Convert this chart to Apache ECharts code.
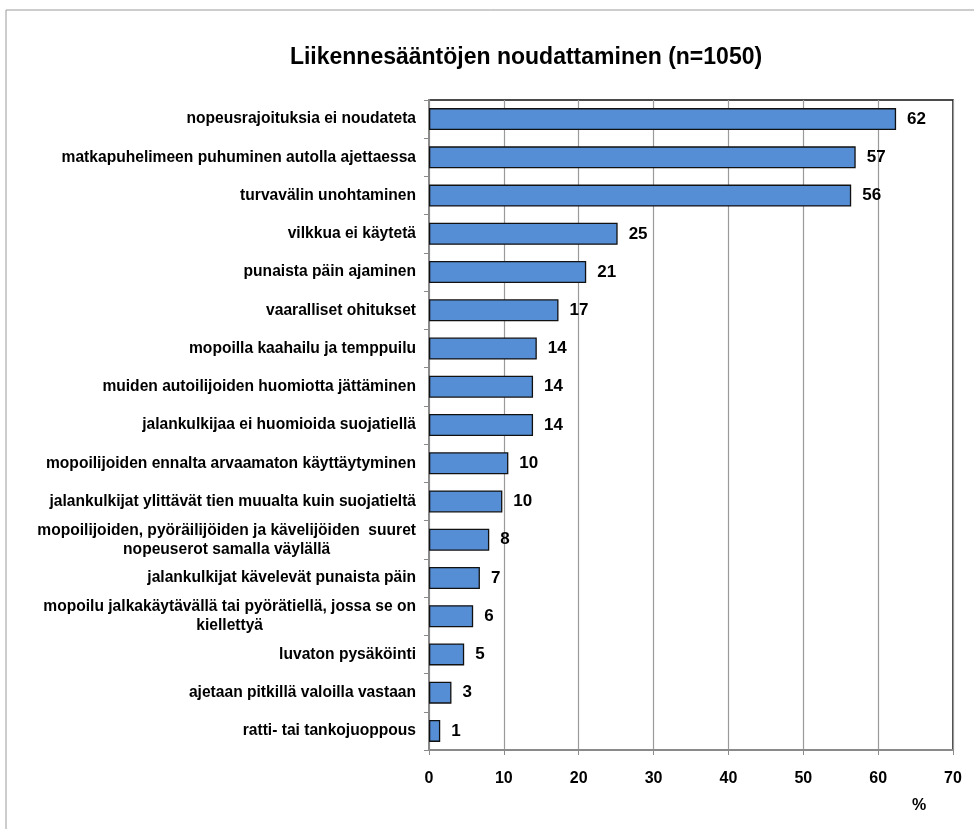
<!DOCTYPE html>
<html>
<head>
<meta charset="utf-8">
<script src="https://cdn.jsdelivr.net/npm/echarts@6/dist/echarts.min.js"></script>
<style>
  html, body { margin: 0; padding: 0; background: #fff; }
  #chart { width: 974px; height: 829px; }
</style>
</head>
<body>
<div id="chart"></div>
<script>
// kategoriat ylhäältä alas
var categories = [
  'nopeusrajoituksia ei noudateta',
  'matkapuhelimeen puhuminen autolla ajettaessa',
  'turvavälin unohtaminen',
  'vilkkua ei käytetä',
  'punaista päin ajaminen',
  'vaaralliset ohitukset',
  'mopoilla kaahailu ja temppuilu',
  'muiden autoilijoiden huomiotta jättäminen',
  'jalankulkijaa ei huomioida suojatiellä',
  'mopoilijoiden ennalta arvaamaton käyttäytyminen',
  'jalankulkijat ylittävät tien muualta kuin suojatieltä',
  'mopoilijoiden, pyöräilijöiden ja kävelijöiden  suuret\nnopeuserot samalla väylällä',
  'jalankulkijat kävelevät punaista päin',
  'mopoilu jalkakäytävällä tai pyörätiellä, jossa se on\nkiellettyä',
  'luvaton pysäköinti',
  'ajetaan pitkillä valoilla vastaan',
  'ratti- tai tankojuoppous'
]
// palkkien pituudet (%)
var values = [62.4, 57.0, 56.4, 25.2, 21.0, 17.3, 14.4, 13.9, 13.9, 10.6, 9.8, 8.05, 6.8, 5.9, 4.7, 3.0, 1.5]
// palkkien päällä näkyvät luvut
var valueLabels = [62, 57, 56, 25, 21, 17, 14, 14, 14, 10, 10, 8, 7, 6, 5, 3, 1]
var xTicks = [0, 10, 20, 30, 40, 50, 60, 70]

var font = 'Liberation Sans, Arial, sans-serif'
var chart = echarts.init(document.getElementById('chart'))

chart.setOption({
  animation: false,
  backgroundColor: '#fff',
  graphic: [
    {
      type: 'rect',
      shape: { x: 6, y: 10, width: 1000, height: 900 },
      style: { fill: 'none', stroke: '#9a9a9a', lineWidth: 1 },
      silent: true
    },
    {
      type: 'text',
      x: 526,
      y: 58,
      style: {
        text: 'Liikennesääntöjen noudattaminen (n=1050)',
        font: 'bold 23px ' + font,
        fill: '#000',
        align: 'center',
        verticalAlign: 'middle'
      }
    },
    {
      type: 'text',
      x: 919,
      y: 806,
      style: {
        text: '%',
        font: 'bold 16px ' + font,
        fill: '#000',
        align: 'center',
        verticalAlign: 'middle'
      }
    }
  ],
  grid: {
    left: 429,
    right: 21,
    top: 100,
    bottom: 79,
    show: true,
    borderColor: '#111',
    borderWidth: 1.5
  },
  xAxis: {
    type: 'value',
    min: xTicks[0],
    max: xTicks[xTicks.length - 1],
    interval: 10,
    axisLine: { show: true, lineStyle: { color: '#8a8a8a', width: 2 } },
    axisTick: { show: true, length: 5, lineStyle: { color: '#8a8a8a' } },
    splitLine: { show: true, lineStyle: { color: '#9a9a9a', width: 1.2 } },
    axisLabel: {
      margin: 21,
      color: '#000',
      fontFamily: font,
      fontWeight: 'bold',
      fontSize: 16
    }
  },
  yAxis: {
    type: 'category',
    inverse: true,
    data: categories,
    axisLine: { show: true, lineStyle: { color: '#8a8a8a', width: 2 } },
    axisTick: { show: true, length: 5, lineStyle: { color: '#8a8a8a' } },
    axisLabel: {
      margin: 13,
      align: 'right',
      formatter: function (val) {
        return val.split('\n').map(function (s) { return '{c|' + s + '}' }).join('\n')
      },
      rich: {
        c: {
          align: 'center',
          color: '#000',
          fontFamily: font,
          fontWeight: 'bold',
          fontSize: 15.6,
          lineHeight: 19
        }
      }
    }
  },
  series: [
    {
      type: 'bar',
      data: values,
      barWidth: 22,
      itemStyle: {
        color: '#558ed5',
        borderColor: '#111',
        borderWidth: 1.3
      },
      label: {
        show: true,
        position: 'right',
        distance: 11,
        color: '#000',
        fontFamily: font,
        fontWeight: 'bold',
        fontSize: 17,
        formatter: function (p) {
          return valueLabels[p.dataIndex]
        }
      }
    }
  ]
})
</script>
</body>
</html>
